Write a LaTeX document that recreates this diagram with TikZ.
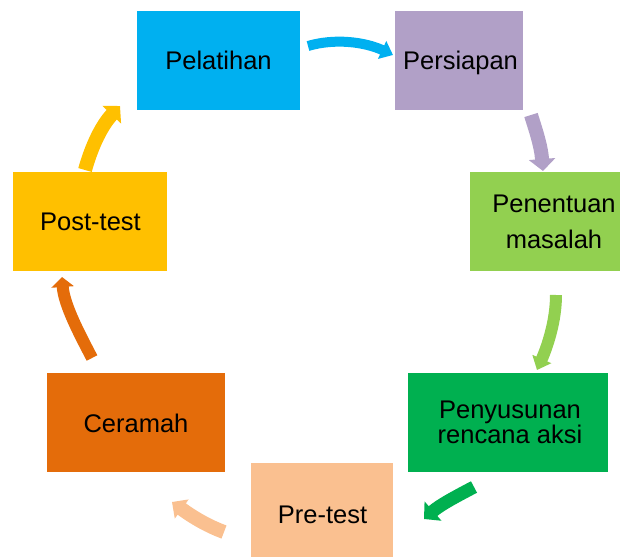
\documentclass[tikz,border=0pt]{standalone}
\usepackage{fontspec}
\setmainfont{Liberation Sans}
\usetikzlibrary{arrows.meta}
\definecolor{cCyan}{HTML}{00B0F0}
\definecolor{cLav}{HTML}{B1A0C7}
\definecolor{cLime}{HTML}{92D050}
\definecolor{cGreen}{HTML}{00B050}
\definecolor{cPeach}{HTML}{FAC090}
\definecolor{cOrange}{HTML}{E46C0A}
\definecolor{cYellow}{HTML}{FFC000}
\tikzset{
  box/.style={rectangle, draw=none, inner sep=0pt},
  lbl/.style={anchor=base, inner sep=0pt, align=center, font=\fontsize{25.5}{25}\selectfont},
  flow/.style={line width=#1, line cap=butt},
}
\begin{document}
\begin{tikzpicture}[x=1pt,y=-1pt]
\useasboundingbox (0,0) rectangle (625,557);
% boxes
\node[box, fill=cCyan, minimum width=163pt, minimum height=99pt] (b1) at (218.5,60.5) {};
\node[box, fill=cLav, minimum width=128pt, minimum height=99pt] (b2) at (459,60.5) {};
\node[box, fill=cLime, minimum width=150pt, minimum height=99pt] (b3) at (545,221.5) {};
\node[box, fill=cGreen, minimum width=200pt, minimum height=99pt] (b4) at (508,422.5) {};
\node[box, fill=cPeach, minimum width=142pt, minimum height=94pt] (b5) at (322,510) {};
\node[box, fill=cOrange, minimum width=178pt, minimum height=99pt] (b6) at (136,422.5) {};
\node[box, fill=cYellow, minimum width=154pt, minimum height=99pt] (b7) at (90,221.5) {};
% texts
\node[lbl] (t1) at (218.5,69) {Pelatihan};
\node[lbl] (t2) at (460.5,69) {Persiapan};
\node[lbl, font=\fontsize{25.5}{36}\selectfont] (t3) at (554,248) {Penentuan\\masalah};
\node[lbl, font=\fontsize{25.5}{25}\selectfont] (t4) at (510,443) {Penyusunan\\rencana aksi};
\node[lbl] (t5) at (322.5,523) {Pre-test};
\node[lbl] (t6) at (136,432) {Ceramah};
\node[lbl] (t7) at (90.5,230) {Post-test};
% arrow end points
\coordinate (a1s) at (308,46);  \coordinate (a1e) at (393,55);
\coordinate (a2s) at (531,115); \coordinate (a2e) at (543,171);
\coordinate (a3s) at (556,295); \coordinate (a3e) at (537,370);
\coordinate (a4s) at (474,487); \coordinate (a4e) at (424,519);
\coordinate (a5s) at (224,532); \coordinate (a5e) at (172,502);
\coordinate (a6s) at (92,358);  \coordinate (a6e) at (62,277);
\coordinate (a7s) at (85,170);  \coordinate (a7e) at (120,106);
% arrows
\draw[cCyan, flow=10pt, -{Triangle[length=12pt,width=19pt]}] (a1s) .. controls (335,38) and (365,42) .. (a1e);
\draw[cLav, flow=14pt, -{Triangle[length=12pt,width=26pt]}] (a2s) .. controls (535,128) and (541,145) .. (a2e);
\draw[cLime, flow=12pt, -{Triangle[length=12pt,width=20pt]}] (a3s) .. controls (556,320) and (548,345) .. (a3e);
\draw[cGreen, flow=13pt, -{Triangle[length=12pt,width=25pt]}] (a4s) .. controls (455,497) and (440,505) .. (a4e);
\draw[cPeach, flow=14pt, -{Triangle[length=12pt,width=23pt]}] (a5s) .. controls (205,525) and (190,515) .. (a5e);
\draw[cOrange, flow=12pt, -{Triangle[length=10pt,width=22pt]}] (a6s) .. controls (80,335) and (64,305) .. (a6e);
\draw[cYellow, flow=14pt, -{Triangle[length=12pt,width=25pt]}] (a7s) .. controls (92,145) and (102,125) .. (a7e);
\end{tikzpicture}
\end{document}
